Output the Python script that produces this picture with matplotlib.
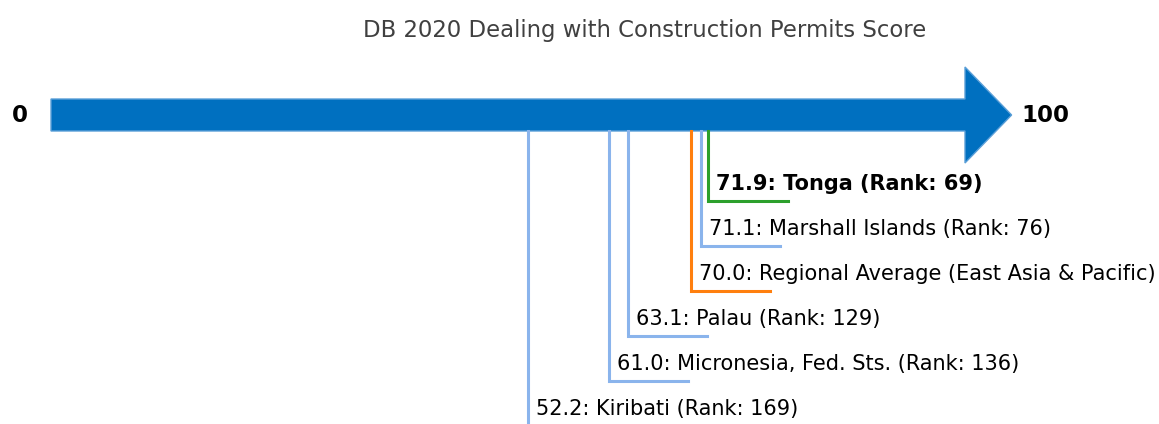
import matplotlib.pyplot as plt
import matplotlib.patches as mpatches

# scores, lowest to highest
names = ['Kiribati', 'Micronesia, Fed. Sts.', 'Palau', 'Regional Average (East Asia & Pacific)',
         'Marshall Islands', 'Tonga']
scores = [52.2, 61.0, 63.1, 70.0, 71.1, 71.9]
ranks = [169, 136, 129, None, 76, 69]
colors = ['#8ab4ec', '#8ab4ec', '#8ab4ec', '#ff7f0e', '#8ab4ec', '#2ca02c']
highlight = 'Tonga'

title = 'DB 2020 Dealing with Construction Permits Score'
score_min, score_max = 0, 100

fig = plt.figure(figsize=(11.59, 4.24), dpi=100)
ax = fig.add_axes([0, 0, 1, 1])
px = 100 / 914.0  # score units per pixel
ax.set_xlim(-51 * px, (1159 - 51) * px)
ax.set_ylim(424, 0)
ax.axis('off')

# main arrow
arrow_y = 115
arrow = mpatches.FancyArrow(score_min, arrow_y, (score_max - score_min) + 5.1, 0,
                            width=32, head_width=96, head_length=5.1,
                            length_includes_head=True,
                            facecolor='#0070c0', edgecolor='#5b9fd8', linewidth=1)
ax.add_patch(arrow)
ax.text(score_min - 3.4, arrow_y, str(score_min), fontsize=16.5, fontweight='bold',
        ha='center', va='center')
ax.text(score_max + 6.2, arrow_y, str(score_max), fontsize=16.5, fontweight='bold',
        ha='left', va='center')

ax.text(64.9, 30, title, fontsize=16.4, color='#404040',
        ha='center', va='center', family='DejaVu Sans')

# leader lines, highest score on top
order = sorted(range(len(scores)), key=lambda i: -scores[i])
for level, i in enumerate(order):
    y_leg = 201 + 45 * level
    x = scores[i]
    ax.plot([x, x, x + 8.7], [arrow_y + 16, y_leg, y_leg], color=colors[i], lw=2.2,
            solid_joinstyle='miter', zorder=1)
    label = f'{x:.1f}: {names[i]}'
    if ranks[i] is not None:
        label += f' (Rank: {ranks[i]})'
    ax.text(x + 0.9, y_leg - 17, label, fontsize=15,
            fontweight='bold' if names[i] == highlight else 'normal',
            ha='left', va='center')

fig.savefig('out.png', dpi=100)
